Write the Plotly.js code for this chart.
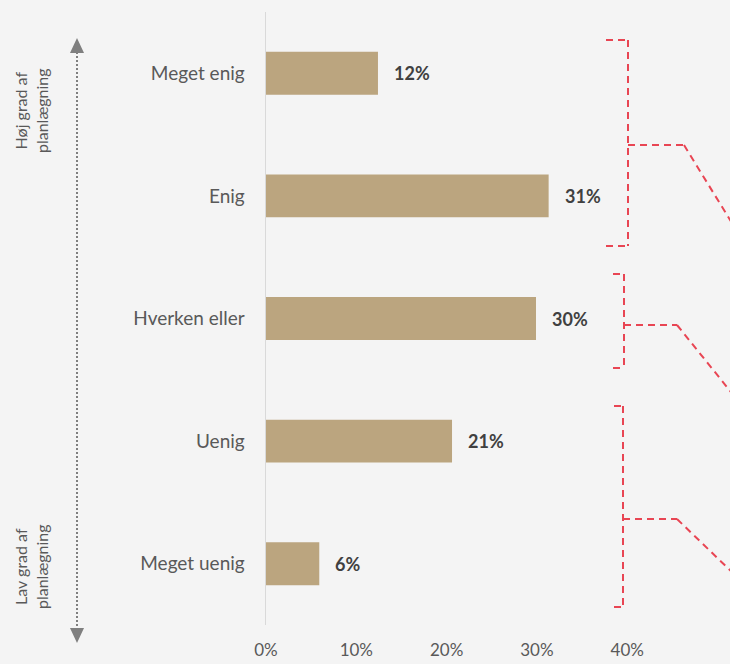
<!DOCTYPE html>
<html><head><meta charset="utf-8">
<script src="https://cdn.plot.ly/plotly-3.0.1.min.js"></script>
<style>html,body{margin:0;padding:0;background:#f4f4f4;}#chart{width:730px;height:664px;}</style>
</head><body><div id="chart"></div>
<script>
const categories = ["Meget enig", "Enig", "Hverken eller", "Uenig", "Meget uenig"];
const values = [12.4, 31.3, 29.9, 20.6, 5.9];
const valueLabels = ["12%", "31%", "30%", "21%", "6%"];
const xTickVals = [0, 10, 20, 30, 40];
const xTickText = ["0%", "10%", "20%", "30%", "40%"];
const topLabel = "Høj grad af<br>planlægning";
const bottomLabel = "Lav grad af<br>planlægning";

const W = 730, H = 664;
const M = {l: 266, r: 0, t: 12, b: 39};
const pw = W - M.l - M.r, ph = H - M.t - M.b;
const px = x => (x - M.l) / pw;
const py = y => 1 - (y - M.t) / ph;

const red = "#e84553";
const gray = "#7f7f7f";
function seg(x0, y0, x1, y1, color, dash, width) {
  return {type: "line", xref: "paper", yref: "paper", x0: px(x0), y0: py(y0), x1: px(x1), y1: py(y1),
    line: {color: color, width: width || 2, dash: dash || "solid"}};
}
function bracket(xl, xv, yt, yb, ym, xm, yd) {
  const d = "7px,5px";
  return [
    seg(xl, yt, xv, yt, red, d), seg(xv, yt, xv, yb, red, d), seg(xl, yb, xv, yb, red, d),
    seg(xv, ym, xm, ym, red, d), seg(xm, ym, 735, yd, red, d)
  ];
}
const shapes = [].concat(
  bracket(606, 628, 40, 246, 145, 684, 228),
  bracket(613, 624, 274, 368, 325, 677, 397),
  bracket(614, 623, 406, 607, 519, 677, 575),
  [
    {type: "line", xref: "paper", yref: "paper", x0: px(77), y0: py(52), x1: px(77), y1: py(628),
     line: {color: gray, width: 2, dash: "2px,2px"}},
    {type: "path", xref: "paper", yref: "paper",
     path: `M ${px(70)} ${py(53)} L ${px(84)} ${py(53)} L ${px(77)} ${py(38)} Z`,
     fillcolor: gray, line: {width: 0}},
    {type: "path", xref: "paper", yref: "paper",
     path: `M ${px(70)} ${py(628)} L ${px(84)} ${py(628)} L ${px(77)} ${py(643)} Z`,
     fillcolor: gray, line: {width: 0}}
  ]
);

const annotations = categories.map((c, i) => ({
  x: values[i], y: c, xref: "x", yref: "y", text: valueLabels[i], showarrow: false,
  xanchor: "left", xshift: 14, font: {family: "Lato, 'Open Sans', sans-serif", size: 18, color: "#404040", weight: "bold"}
})).concat([
  {xref: "paper", yref: "paper", x: px(31), y: py(111), xanchor: "center", yanchor: "middle",
   text: topLabel, showarrow: false, textangle: -90,
   font: {family: "Lato, sans-serif", size: 16, color: "#595959"}, align: "center"},
  {xref: "paper", yref: "paper", x: px(31), y: py(567), xanchor: "center", yanchor: "middle",
   text: bottomLabel, showarrow: false, textangle: -90,
   font: {family: "Lato, sans-serif", size: 16, color: "#595959"}, align: "center"}
]);

const trace = {
  type: "bar", orientation: "h", x: values, y: categories,
  marker: {color: "#bba57f", line: {width: 0}}, width: 0.35, hoverinfo: "skip"
};

const layout = {
  width: W, height: H, margin: M,
  paper_bgcolor: "#f4f4f4", plot_bgcolor: "#f4f4f4",
  showlegend: false,
  xaxis: {range: [0, pw / 90.3 * 10], tickvals: xTickVals, ticktext: xTickText, showgrid: false, zeroline: false,
    showline: false, ticks: "", tickfont: {family: "Lato, sans-serif", size: 17, color: "#595959"}, ticklabelstandoff: 13},
  yaxis: {categoryorder: "array", categoryarray: categories, autorange: "reversed", range: [4.5, -0.5],
    showgrid: false, zeroline: false, showline: true, linecolor: "#d9d9d9", linewidth: 1.5, ticks: "",
    ticklabelstandoff: 16, tickfont: {family: "Lato, sans-serif", size: 19, color: "#595959"}},
  shapes: shapes, annotations: annotations
};
Plotly.newPlot("chart", [trace], layout, {staticPlot: true, displayModeBar: false});
</script></body></html>
